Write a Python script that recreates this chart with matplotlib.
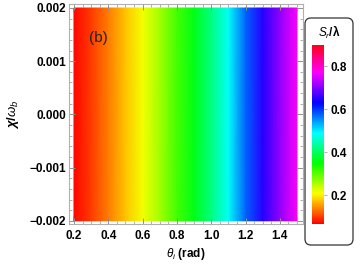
import numpy as np
import matplotlib
matplotlib.use('Agg')
import matplotlib.pyplot as plt
from matplotlib.patches import FancyBboxPatch
from matplotlib.ticker import MultipleLocator

plt.rcParams['font.family'] = ['Liberation Sans', 'DejaVu Sans']
plt.rcParams['mathtext.fontset'] = 'custom'
plt.rcParams['mathtext.rm'] = 'Liberation Sans'
plt.rcParams['mathtext.it'] = 'Liberation Sans:italic'
plt.rcParams['mathtext.bf'] = 'Liberation Sans:bold'
plt.rcParams['mathtext.bfit'] = 'Liberation Sans:bold:italic'

# S_r/lambda read off along theta_i (almost no dependence on chi)
theta = [0.2, 0.3, 0.4, 0.5, 0.6, 0.7, 0.8, 0.9, 1.0, 1.1, 1.2, 1.3, 1.4, 1.5]
sr = [0.07, 0.10, 0.135, 0.175, 0.215, 0.26, 0.31, 0.36, 0.42, 0.485, 0.575, 0.65, 0.71, 0.77]
chi = [-0.002, 0.002]
xticks = [0.2, 0.4, 0.6, 0.8, 1.0, 1.2, 1.4]
yticks = [-0.002, -0.001, 0.0, 0.001, 0.002]
cticks = [0.2, 0.4, 0.6, 0.8]
vmin, vmax = 0.065, 0.9

fig = plt.figure(figsize=(3.6, 2.65), dpi=100)

# colorbar inside a rounded box (drawn first, behind everything)
box = FancyBboxPatch((305, 20), 48, 227, boxstyle='round,pad=0,rounding_size=6',
                     transform=None, facecolor='white', edgecolor='#333333',
                     linewidth=0.9, zorder=-5)
fig.add_artist(box)

ax = fig.add_axes([69/360, 1-224/265, 234/360, 220/265])

T, C = np.meshgrid(theta, chi)
Z = np.array([sr, sr])
mesh = ax.pcolormesh(T, C, Z, shading='gouraud', cmap='hsv', vmin=vmin, vmax=vmax,
                     antialiased=False)

ax.set_xlim(0.171, 1.535)
ax.set_ylim(-0.00206, 0.002075)
ax.set_xticks(xticks)
ax.set_xticklabels(['%.1f' % v for v in xticks])
ax.set_yticks(yticks)
ax.set_yticklabels(['\u22120.002', '\u22120.001', '0.000', '0.001', '0.002'])
ax.xaxis.set_minor_locator(MultipleLocator(0.05))
ax.yaxis.set_minor_locator(MultipleLocator(0.0002))
for s in ax.spines.values():
    s.set_color('#b0b0b0')
ax.tick_params(which='both', direction='in', top=True, right=True, color='#909090')
ax.tick_params(which='major', length=4, width=0.7, labelsize=8.5, pad=2)
ax.tick_params(axis='x', which='major', pad=4)
ax.tick_params(which='minor', length=2, width=0.5)
for lab in ax.get_xticklabels() + ax.get_yticklabels():
    lab.set_fontweight('bold')

ax.set_xlabel(r'$\boldsymbol{\theta_i}$ (rad)', fontsize=8.5, fontweight='bold', labelpad=3)
ax.set_ylabel(r'$\boldsymbol{\chi/\omega_b}$', fontsize=9.5, fontweight='bold', labelpad=6)
ax.text(0.085, 0.845, '(b)', transform=ax.transAxes, fontsize=11, color='#222222',
        va='center')

cax = fig.add_axes([312/360, 1-224/265, 12/360, 179/265])
cb = fig.colorbar(mesh, cax=cax, ticks=cticks)
cb.outline.set_visible(False)
cax.tick_params(length=2, width=0.5, color='#909090', labelsize=8.5, pad=3)
for lab in cax.get_yticklabels():
    lab.set_fontweight('bold')
fig.text(329/360, 1-32/265, r'$\boldsymbol{S_r/\lambda}$', ha='center', va='center',
         fontsize=8.5)

fig.savefig('out.png', dpi=100)
